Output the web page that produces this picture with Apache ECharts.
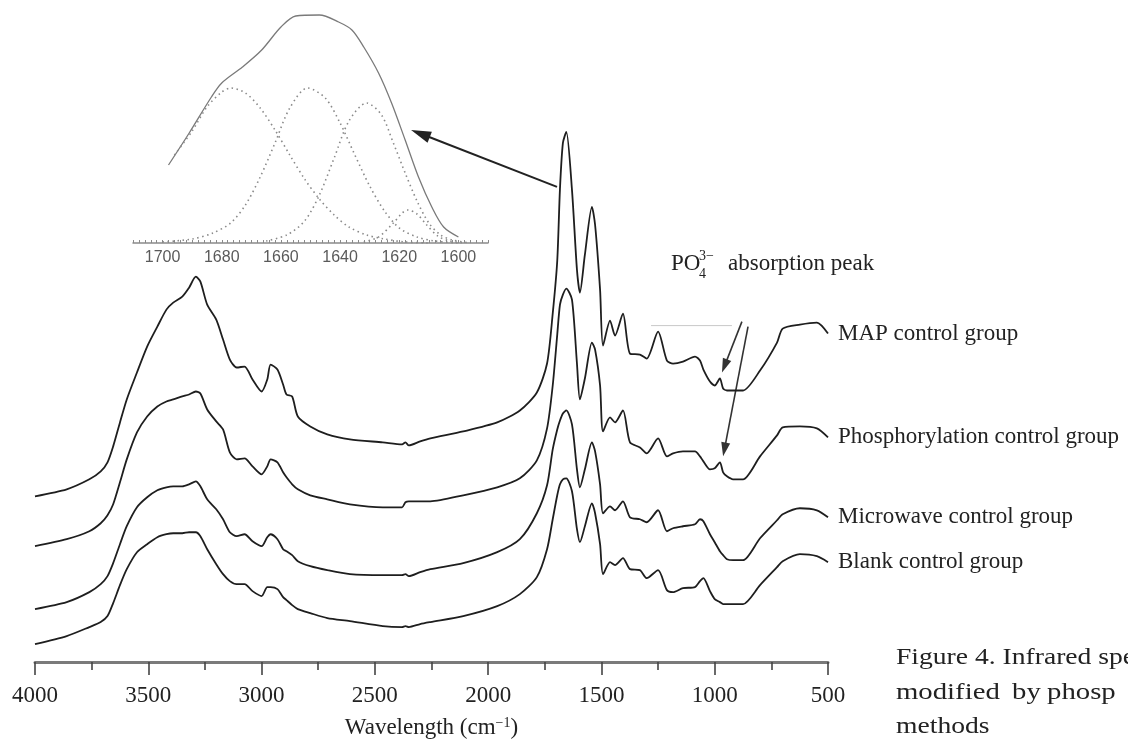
<!DOCTYPE html>
<html><head><meta charset="utf-8">
<script src="https://cdn.jsdelivr.net/npm/echarts@6/dist/echarts.min.js"></script>
<style>html,body{margin:0;padding:0;background:#fff}#c{width:1128px;height:744px}</style>
</head><body><div id="c"></div><script>
// ---- main spectra (wavenumber, cm-1) ----
const wavenumbers = [4000,3860,3760,3710,3680,3655,3625,3595,3550,3505,3460,3420,3390,3350,3320,3290,3270,3240,3200,3170,3140,3110,3075,3040,3000,2975,2960,2930,2905,2890,2865,2840,2785,2710,2610,2465,2380,2365,2350,2300,2255,2110,1960,1860,1785,1740,1715,1695,1683,1670,1655,1630,1608,1595,1573,1542,1528,1506,1493,1462,1440,1405,1374,1330,1300,1250,1211,1184,1140,1087,1065,1050,1021,1000,977,963,946,919,875,800,725,700,624,549,500];
const mapGroup = [166,173,183,191,200,216,240,263,290,316,336,353,360,366,375,386,381,358,343,323,303,295,296,283,271,283,298,293,278,268,266,246,236,228,223,220,218,220,217,221,224,231,240,252,270,299,349,402,474,520,531,473,393,370,408,456,438,373,317,342,327,349,309,308,304,331,302,299,301,306,302,293,281,277,284,274,272,272,272,292,320,334,338,340,329];
const phosGroup = [116,123,131,139,147,158,180,203,230,246,256,261,263,266,268,271,269,253,241,233,210,203,204,196,188,196,203,200,190,185,178,173,167,163,158,155,155,160,161,161,161,167,175,184,202,234,277,328,358,368,374,363,299,263,284,320,313,277,231,245,240,252,220,215,209,224,206,209,211,211,206,201,193,194,200,190,186,183,183,206,227,235,236,234,225];
const microGroup = [53,60,70,78,86,99,118,136,155,165,172,175,176,176,178,181,176,163,153,143,130,126,128,121,116,125,128,123,113,111,107,101,96,92,88,87,87,88,86,90,93,99,110,123,149,177,213,233,242,249,252,238,193,175,193,220,211,178,149,156,152,161,145,143,140,152,131,134,136,138,143,141,128,120,111,107,103,102,102,124,142,148,154,152,145];
const blankGroup = [18,26,35,40,46,59,77,93,110,118,125,128,129,129,130,130,126,113,98,88,81,78,78,71,66,75,75,73,65,62,57,53,49,44,41,36,35,36,35,38,40,46,56,68,85,113,143,167,178,183,184,171,133,120,136,159,149,118,88,100,97,104,93,92,84,92,72,70,74,75,81,84,71,63,60,58,58,58,58,77,95,101,108,106,100];
const seriesNames = ['MAP control group','Phosphorylation control group','Microwave control group','Blank control group'];

// ---- inset: amide I band fit ----
const insetSumWn = [1698,1691,1683.5,1680,1673,1666.5,1660,1655,1647,1640.5,1636,1632,1627,1622.6,1618,1613.5,1609,1605,1600];
const insetSum = [78,110,146,160,176,193,216,227,228,221,213,196,170,140,103,66,36,16,6];
const band1Wn = [1696,1690,1685,1680,1677,1672,1667,1662,1657,1652,1647,1642,1637,1631,1625,1618,1610];
const band1 = [88,112,136,151,155,150,135,113,88,64,44,28,16,8,4,1,0];
const band2Wn = [1700,1690,1683,1677,1672,1667,1662,1657,1651,1645,1640,1635,1630,1625,1620,1614,1608,1600];
const band2 = [1,4,10,20,38,66,100,135,155,145,120,88,57,32,15,6,2,0];
const band3Wn = [1665,1658,1652,1647,1642,1637,1631,1626,1622,1618,1614,1610,1606,1602,1596];
const band3 = [2,8,22,48,85,122,140,128,100,70,42,20,8,3,0];
const band4Wn = [1632,1627,1622,1619,1617,1614,1611,1607,1603,1598];
const band4 = [1,6,20,30,33,29,19,7,2,0];
const insetTickLabels = [1700,1680,1660,1640,1620,1600];

// ---- annotations (data coordinates) ----
const zoomArrow = {from:[1696,476], to:[1616,113]};      // main grid -> inset grid
const po4Arrows = [{from:[880,341], to:[968,290]}, {from:[853,336], to:[963,206]}];
const faintLine = [[1281,337],[924,337]];

const SERIF = '"Liberation Serif", "Times New Roman", serif';
const SANS = '"Liberation Sans", Arial, sans-serif';
const zip = (a,b) => a.map((v,i) => [v, b[i]]);

const insetMinorTicks = [];
for (let v = 1590; v <= 1710; v += 2) insetMinorTicks.push(v);

const mainLine = (name, vals) => ({
  name, type:'line', xAxisIndex:0, yAxisIndex:0, data: zip(wavenumbers, vals),
  showSymbol:false, smooth:0.25, lineStyle:{color:'#1e1e1e', width:1.8},
  emphasis:{disabled:true}
});
const insetLine = (wn, vals, dotted) => ({
  type:'line', xAxisIndex:1, yAxisIndex:1, data: zip(wn, vals), showSymbol:false, smooth:0.3,
  lineStyle: dotted ? {color:'#8a8a8a', width:1.6, type:[1.5,3.5]} : {color:'#7a7a7a', width:1.3},
  emphasis:{disabled:true}
});

const chart = echarts.init(document.getElementById('c'), null, {renderer:'canvas'});
chart.setOption({
  animation:false, backgroundColor:'#fff',
  grid:[{left:35,right:300,top:100,bottom:81},{left:133,right:640,top:10,bottom:501}],
  xAxis:[
    {gridIndex:0, type:'value', min:500, max:4000, interval:500, inverse:true,
     name:'Wavelength (cm{sup|−1})', nameLocation:'middle', nameGap:54,
     nameTextStyle:{fontFamily:SERIF, fontSize:23, color:'#222',
       rich:{sup:{fontFamily:SERIF, fontSize:14, color:'#222', verticalAlign:'top'}}},
     axisLine:{lineStyle:{color:'#7a7a7a', width:3}},
     axisTick:{length:13, lineStyle:{color:'#444', width:1.6}},
     minorTick:{show:true, splitNumber:2, length:8, lineStyle:{color:'#444', width:1.6}},
     splitLine:{show:false}, minorSplitLine:{show:false},
     axisLabel:{margin:22, fontFamily:SERIF, fontSize:23, color:'#222', formatter: v => String(v)}},
    {gridIndex:1, type:'value', min:1590, max:1710, inverse:true,
     axisLine:{lineStyle:{color:'#8a8a8a', width:1.5}},
     axisTick:{customValues:insetMinorTicks, length:3, inside:true, lineStyle:{color:'#8a8a8a'}},
     axisLabel:{customValues:insetTickLabels, margin:7, fontFamily:SANS, fontSize:16, color:'#5a5a5a', formatter: v => String(v)},
     splitLine:{show:false}}
  ],
  yAxis:[
    {gridIndex:0, type:'value', min:0, max:563, show:false},
    {gridIndex:1, type:'value', min:0, max:233, show:false}
  ],
  series:[
    mainLine(seriesNames[0], mapGroup),
    mainLine(seriesNames[1], phosGroup),
    mainLine(seriesNames[2], microGroup),
    mainLine(seriesNames[3], blankGroup),
    insetLine(insetSumWn, insetSum, false),
    insetLine(band1Wn, band1, true),
    insetLine(band2Wn, band2, true),
    insetLine(band3Wn, band3, true),
    insetLine(band4Wn, band4, true)
  ]
});

function arrow(p0, p1, head, half, w, color) {
  const dx = p1[0]-p0[0], dy = p1[1]-p0[1], L = Math.hypot(dx, dy);
  const ux = dx/L, uy = dy/L, bx = p1[0]-ux*head, by = p1[1]-uy*head, nx = -uy, ny = ux;
  return [
    {type:'line', silent:true, shape:{x1:p0[0], y1:p0[1], x2:bx+ux*2, y2:by+uy*2}, style:{stroke:color, lineWidth:w}},
    {type:'polygon', silent:true, shape:{points:[[p1[0],p1[1]],[bx+nx*half,by+ny*half],[bx-nx*half,by-ny*half]]}, style:{fill:color}}
  ];
}
const toMain = p => chart.convertToPixel({gridIndex:0}, p);
const toInset = p => chart.convertToPixel({gridIndex:1}, p);
const txt = (x, y, text, size, extra) => Object.assign({type:'text', x, y, silent:true,
  style:{text, fontFamily:SERIF, fontSize:size, fill:'#222', align:'left', verticalAlign:'middle'}}, extra || {});

const g = [];
g.push(...arrow(toMain(zoomArrow.from), toInset(zoomArrow.to), 20, 6, 2, '#222'));
po4Arrows.forEach(a => g.push(...arrow(toMain(a.from), toMain(a.to), 14, 4.5, 1.6, '#333')));
const f0 = toMain(faintLine[0]), f1 = toMain(faintLine[1]);
g.push({type:'line', silent:true, shape:{x1:f0[0], y1:f0[1], x2:f1[0], y2:f1[1]}, style:{stroke:'#c8c8c8', lineWidth:1}});
// series labels at the right end of each spectrum
[mapGroup, phosGroup, microGroup, blankGroup].forEach((vals, i) => {
  const n = vals.length - 1;
  const p = toMain([wavenumbers[n], vals[n]]);
  g.push(txt(p[0] + 10, p[1], seriesNames[i], 23));
});
// PO4 3- label
g.push(txt(671, 264, 'PO', 23));
g.push(txt(699, 256, '3−', 14));
g.push(txt(699, 274, '4', 14));
g.push(txt(728, 264, 'absorption peak', 23));
// caption (cut by the picture edge)
g.push(txt(896, 658, 'Figure 4. Infrared spe', 23, {scaleX:1.2}));
g.push(txt(896, 693, 'modified', 23, {scaleX:1.25}));
g.push(txt(1012, 693, 'by', 23, {scaleX:1.25}));
g.push(txt(1047, 693, 'phosp', 23, {scaleX:1.25}));
g.push(txt(896, 727, 'methods', 23, {scaleX:1.2}));
chart.setOption({graphic: g});
</script></body></html>
